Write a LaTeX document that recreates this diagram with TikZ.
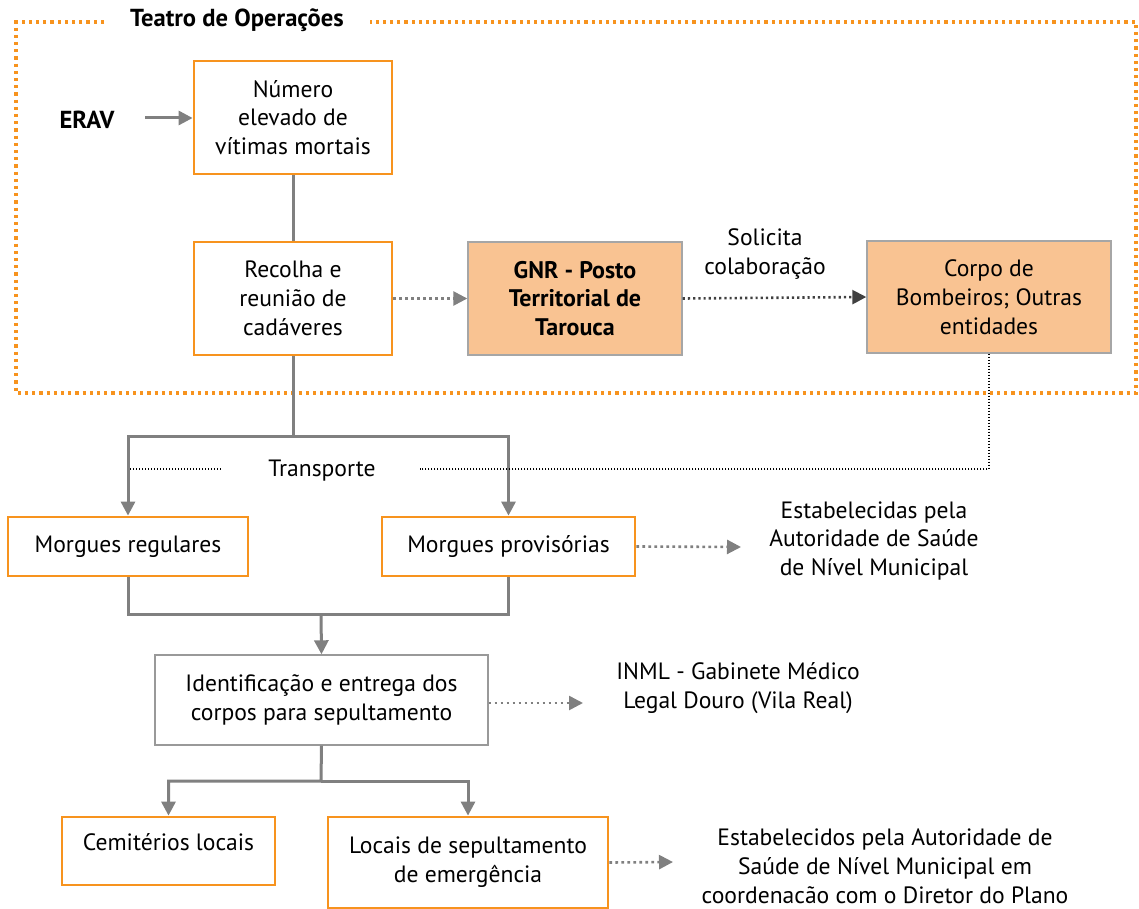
\documentclass[tikz,border=0pt]{standalone}
\usepackage{fontspec}
\setmainfont{PT Sans}
\usetikzlibrary{positioning, arrows.meta}
\definecolor{laranja}{HTML}{F7931E}
\definecolor{pessego}{HTML}{F9C392}
\definecolor{cinza}{HTML}{808080}
\definecolor{escuro}{HTML}{404040}
\tikzset{
	caixa/.style={draw=laranja, line width=1.4pt, fill=white, align=center, inner sep=0pt},
	caixacinza/.style={draw=cinza!80, line width=0.7pt, fill=white, align=center, inner sep=0pt},
	caixapessego/.style={draw=cinza!70, line width=0.7pt, fill=pessego, align=center, inner sep=0pt},
	texto/.style={align=center, inner sep=0pt},
	seta/.style={draw=cinza, line width=1.5pt, -{Triangle[length=7pt, width=7pt]}},
	linha/.style={draw=cinza, line width=1.5pt},
	pontos/.style={draw=cinza, line width=1.3pt, dash pattern=on 1.3pt off 1.7pt, -{Triangle[length=7pt, width=7pt]}},
	pontospretos/.style={draw=escuro, line width=1.3pt, dash pattern=on 1.1pt off 1.5pt, -{Triangle[length=7pt, width=7pt]}},
	fio/.style={draw=black, line width=0.6pt, dash pattern=on 0.6pt off 0.9pt}
}
\begin{document}
\begin{tikzpicture}[x=0.5pt, y=-0.5pt, font=\fontsize{11.8}{14.4}\selectfont]
	\useasboundingbox (0,0) rectangle (1139,909);
	% teatro de operacoes
	\draw[laranja, line width=1.6pt, dash pattern=on 1.6pt off 2pt]
		(104,22) -- (16,22) -- (16,393) -- (1136,393) -- (1136,22) -- (370,22);
	\node[texto, font=\fontsize{12.3}{14.4}\selectfont\bfseries] (teatro) at (237,20) {Teatro de Operações};
	\node[texto, font=\fontsize{12.3}{14.4}\selectfont\bfseries] (erav) at (87,120) {ERAV};

	\node[caixa, minimum width=99pt, minimum height=56.5pt] (numero) at (293,117.5) {Número\\elevado de\\vítimas mortais};
	\node[caixa, minimum width=99pt, minimum height=56.5pt] (recolha) at (293,298.5) {Recolha e\\reunião de\\cadáveres};
	\node[caixapessego, minimum width=107pt, minimum height=56.5pt, font=\fontsize{12}{14.4}\selectfont\bfseries] (gnr) at (575,298.5) {GNR - Posto\\Territorial de\\Tarouca};
	\node[caixapessego, minimum width=122pt, minimum height=56pt] (bombeiros) at (989,297) {Corpo de\\Bombeiros; Outras\\entidades};
	\node[texto] (solicita) at (765,254) {Solicita\\colaboração};

	\node[texto] (transporte) at (322,471) {Transporte};
	\node[caixa, minimum width=120pt, minimum height=29.5pt] (regulares) at (128,546.5) {Morgues regulares};
	\node[caixa, minimum width=126.5pt, minimum height=29.5pt] (provisorias) at (508.5,546.5) {Morgues provisórias};
	\node[texto] (estab1) at (874,541) {Estabelecidas pela\\Autoridade de Saúde\\de Nível Municipal};

	\node[caixacinza, minimum width=166.5pt, minimum height=45pt] (ident) at (321.5,700) {Identificação e entrega dos\\corpos para sepultamento};
	\node[texto] (inml) at (738,688) {INML - Gabinete Médico\\Legal Douro (Vila Real)};

	\node[caixa, minimum width=106.5pt, minimum height=34pt] (cemiterios) at (168.5,851) {Cemitérios locais\\[-5pt]\mbox{}};
	\node[caixa, minimum width=140pt, minimum height=45.5pt] (locais) at (468,862.5) {Locais de sepultamento\\de emergência};
	\node[texto] (estab2) at (885,866) {Estabelecidos pela Autoridade de\\Saúde de Nível Municipal em\\coordenacão com o Diretor do Plano};

	\coordinate (tresq1) at (130,469);
	\coordinate (tresq2) at (222,469);
	\coordinate (trdir) at (420,469);

	\draw[seta] (145,118) -- (numero.west |- 145,118);
	\draw[linha] (numero) -- (recolha);
	\draw[pontos] (recolha.east) -- (gnr.west);
	\draw[pontospretos] (gnr.east) -- (bombeiros.west);
	\draw[seta] (recolha.south) -- (293,436) -| (regulares.north);
	\draw[seta] (293,436) -| (provisorias.north);
	\draw[fio] (tresq1) -- (tresq2);
	\draw[fio] (bombeiros.south) |- (trdir);
	\draw[pontos] (provisorias.east) -- (741,547);
	\draw[linha] (regulares.south) |- (321,614) -| (provisorias.south);
	\draw[seta] (321,614) -- (ident.north);
	\draw[pontos] (ident.east |- 0,703) -- (583,703);
	\draw[seta] (ident.south) -- (321,781) -| (cemiterios.north);
	\draw[seta] (321,781) -| (locais.north);
	\draw[pontos] (locais.east) -- (673,862);
\end{tikzpicture}
\end{document}
